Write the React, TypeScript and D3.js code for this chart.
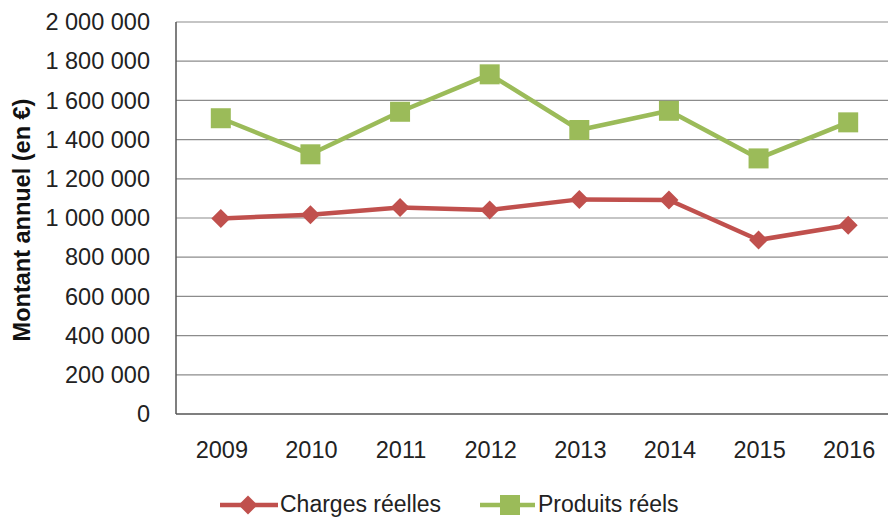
import React from "react";
import * as d3 from "d3";

const years = ["2009", "2010", "2011", "2012", "2013", "2014", "2015", "2016"];
const charges = [998000, 1017000, 1054000, 1041000, 1095000, 1092000, 888000, 963000];
const produits = [1509000, 1325000, 1542000, 1733000, 1449000, 1547000, 1304000, 1488000];
const yTicks = [0, 200000, 400000, 600000, 800000, 1000000, 1200000, 1400000, 1600000, 1800000, 2000000];

const W = 888, H = 518;
const left = 176, right = 893, top = 22, bottom = 414;
const FONT = "'Liberation Sans', Arial, sans-serif";

const fmt = (v: number) => {
  const s = String(v);
  return s.replace(/\B(?=(\d{3})+(?!\d))/g, " ");
};

export default function App() {
  const x = d3.scaleBand<string>().domain(years).range([left, right]);
  const y = d3.scaleLinear().domain([0, 2000000]).range([bottom, top]);
  const cx = (yr: string) => (x(yr) as number) + x.bandwidth() / 2;
  const line = d3.line<number>().x((_, i) => cx(years[i])).y((d) => y(d));
  const red = "#C0504D", green = "#9BBB59";
  const diamond = (px: number, py: number, r: number) =>
    `M${px},${py - r}L${px + r},${py}L${px},${py + r}L${px - r},${py}Z`;

  return (
    <svg width={W} height={H} style={{ position: "absolute", left: 0, top: 0, background: "#fff" }}>
      {yTicks.map((t) => (
        <g key={t}>
          {t > 0 && <line x1={left} x2={W} y1={y(t)} y2={y(t)} stroke="#8c8c8c" strokeWidth={1.2} />}
          <text x={150} y={y(t)} dy="0.35em" textAnchor="end" fontFamily={FONT} fontSize={23.5} fill="#222">
            {fmt(t)}
          </text>
        </g>
      ))}
      <line x1={left} x2={left} y1={top} y2={bottom} stroke="#555" strokeWidth={1.5} />
      <line x1={left} x2={W} y1={bottom} y2={bottom} stroke="#555" strokeWidth={1.5} />
      {years.map((yr) => (
        <text key={yr} x={cx(yr) + 1} y={458} textAnchor="middle" fontFamily={FONT} fontSize={23.5} fill="#222">
          {yr}
        </text>
      ))}
      <text
        transform={`translate(30,220) rotate(-90)`}
        textAnchor="middle"
        fontFamily={FONT}
        fontSize={23.5}
        fontWeight="bold"
        fill="#111"
      >
        Montant annuel (en €)
      </text>
      <path d={line(charges) || ""} fill="none" stroke={red} strokeWidth={4.5} strokeLinejoin="round" />
      <path d={line(produits) || ""} fill="none" stroke={green} strokeWidth={4.5} strokeLinejoin="round" />
      {charges.map((v, i) => (
        <path key={"c" + i} d={diamond(cx(years[i]), y(v), 9.5)} fill={red} />
      ))}
      {produits.map((v, i) => (
        <rect key={"p" + i} x={cx(years[i]) - 10} y={y(v) - 10} width={20} height={20} fill={green} />
      ))}
      <g>
        <line x1={220} x2={278} y1={505} y2={505} stroke={red} strokeWidth={4.5} />
        <path d={diamond(248, 505, 9.5)} fill={red} />
        <text x={280} y={512} fontFamily={FONT} fontSize={23} fill="#222">Charges réelles</text>
        <line x1={480} x2={535} y1={505} y2={505} stroke={green} strokeWidth={4.5} />
        <rect x={500} y={495} width={20} height={20} fill={green} />
        <text x={538} y={512} fontFamily={FONT} fontSize={23} fill="#222">Produits réels</text>
      </g>
    </svg>
  );
}
